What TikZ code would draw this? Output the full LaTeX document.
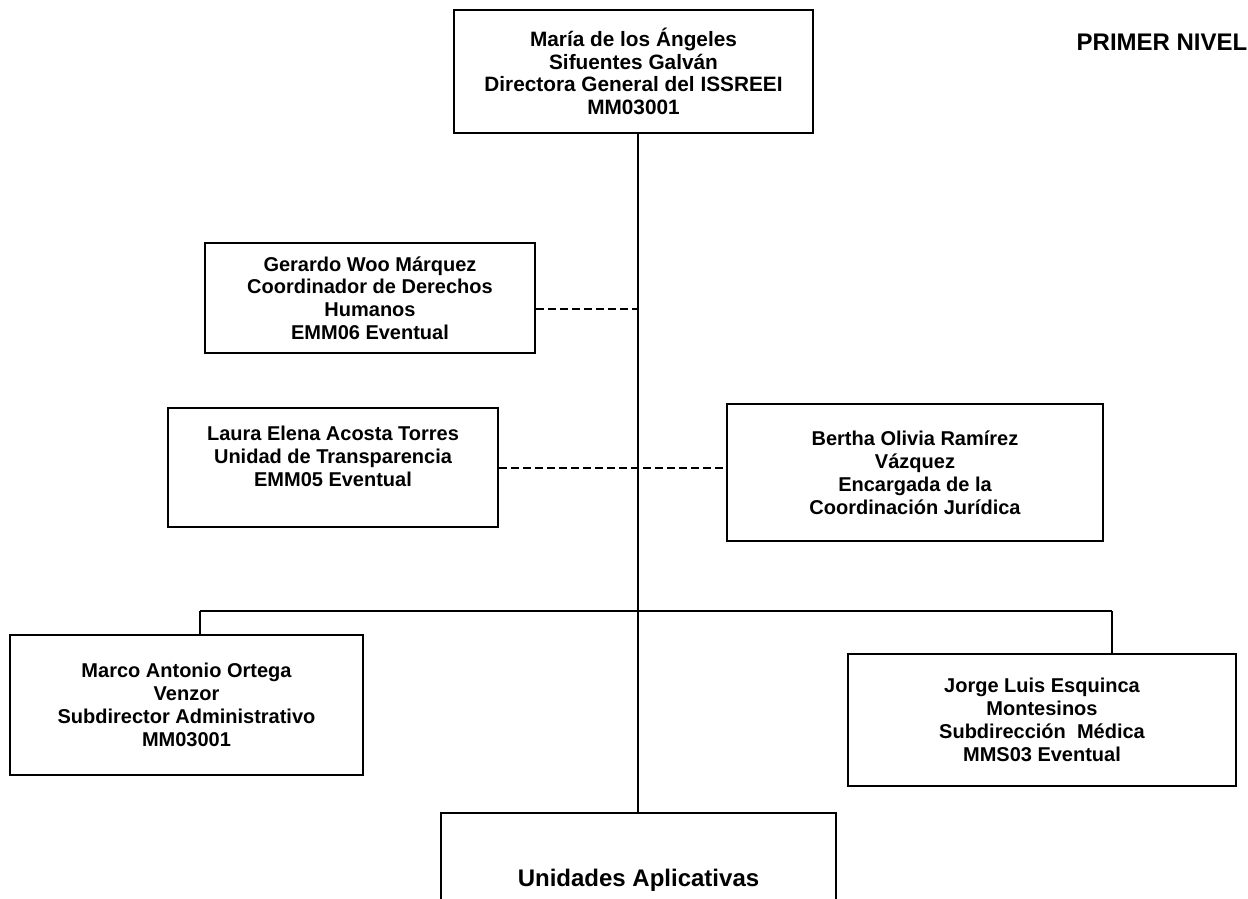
\documentclass[tikz,border=0pt]{standalone}
\usepackage{fontspec}
\setmainfont{Liberation Sans}
\usepackage{tikz}
\usetikzlibrary{arrows}

\begin{document}
\begin{tikzpicture}[-,x=0.5pt,y=-0.5pt,line width=1.4pt,
  font=\fontsize{10}{11.4}\selectfont\bfseries,
  box node/.style={rectangle,draw,line width=1.1pt,align=center,inner sep=0pt},
  head node/.style={box node,minimum width=179.5pt,minimum height=61.5pt,font=\fontsize{10.4}{11.4}\selectfont\bfseries},
  staff node/.style={box node,minimum width=165pt},
  sub node/.style={box node,minimum height=70pt},
  unit node/.style={box node,minimum width=197.5pt,minimum height=67pt,font=\fontsize{12}{14}\selectfont\bfseries}]
  \useasboundingbox (0,0) rectangle (1248,899);
  \clip (0,0) rectangle (1248,899);

  \node[head node] (1) at (633.5,71.5) {María de los Ángeles\\Sifuentes Galván\\Directora General del ISSREEI\\MM03001};
  \node[staff node,minimum height=55pt] (2) at (370,298) {Gerardo Woo Márquez\\Coordinador de Derechos\\Humanos\\EMM06 Eventual};
  \node[staff node,minimum height=59.5pt] (3) at (333,467.5) {Laura Elena Acosta Torres\\Unidad de Transparencia\\EMM05 Eventual\\\mbox{}};
  \node[box node,minimum width=188pt,minimum height=68.5pt] (4) at (915,472.5) {\mbox{}\\[-4pt]Bertha Olivia Ramírez\\Vázquez\\Encargada de la\\Coordinación Jurídica};
  \node[sub node,minimum width=176.5pt] (6) at (186.5,705) {Marco Antonio Ortega\\Venzor\\Subdirector Administrativo\\MM03001};
  \node[sub node,minimum width=194pt,minimum height=66pt] (7) at (1042,720) {Jorge Luis Esquinca\\Montesinos\\Subdirección\ \ Médica\\MMS03 Eventual};
  \node[unit node] (8) at (638.5,880) {Unidades Aplicativas};
  \node[font=\fontsize{12}{14}\selectfont\bfseries] (0) at (1162,42) {PRIMER NIVEL};

  \coordinate (b) at (638,611);
  \coordinate (bl) at (200,611);
  \coordinate (br) at (1112,611);

  \path (1.south -| b) edge (8.north -| b)
    (bl) edge (br)
    (bl) edge (6.north -| bl)
    (br) edge (7.north -| br);
  \path[line width=1pt,dash pattern=on 4pt off 2pt]
    ([yshift=-5.5pt]2.east) edge ([yshift=-5.5pt]2.east -| b)
    (3.east) edge (3.east -| 4.west);
\end{tikzpicture}
\end{document}
